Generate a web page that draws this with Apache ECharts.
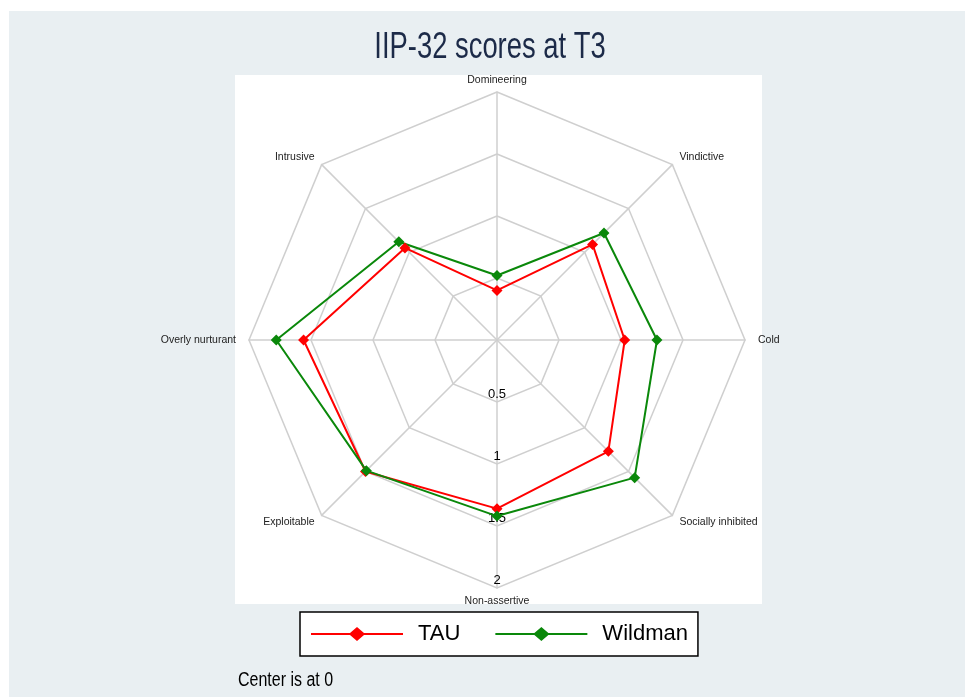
<!DOCTYPE html>
<html><head><meta charset="utf-8">
<script src="https://cdn.jsdelivr.net/npm/echarts@6/dist/echarts.min.js"></script>
<style>html,body{margin:0;padding:0;background:#fff}#c{width:965px;height:697px}</style>
</head><body><div id="c"></div>
<script>
// Indicators listed counter-clockwise from the top
const categories = ['Domineering','Intrusive','Overly nurturant','Exploitable','Non-assertive','Socially inhibited','Cold','Vindictive'];
const tauValues     = [0.40, 1.05, 1.56, 1.50, 1.36, 1.27, 1.03, 1.09];
const wildmanValues = [0.52, 1.12, 1.78, 1.49, 1.42, 1.57, 1.29, 1.22];
const seriesNames = ['TAU','Wildman'];
const tickLabels = ['0.5','1','1.5','2'];
const axisMax = 2;

const FONT = '"Liberation Sans",Arial,sans-serif';
const legendIcon = 'path://M0,6 L39,6 L46,0 L53,6 L92,6 L92,8 L53,8 L46,14 L39,8 L0,8 Z';
const nameGaps = {'Domineering':6,'Non-assertive':8,'Cold':13,'Overly nurturant':13};

const chart = echarts.init(document.getElementById('c'), null, {renderer:'canvas'});
chart.setOption({
  backgroundColor:'#ffffff',
  animation:false,
  textStyle:{fontFamily:FONT},
  graphic:[
    {type:'rect', z:-10, silent:true, shape:{x:9,y:11,width:960,height:690}, style:{fill:'#e9eff2'}},
    {type:'rect', z:-9, silent:true, shape:{x:235,y:75,width:527,height:529}, style:{fill:'#ffffff'}},
    {type:'text', x:490, y:48, scaleX:0.74, style:{text:'IIP-32 scores at T3', font:'37px '+FONT, fill:'#1c2a48', align:'center', verticalAlign:'middle'}},
    {type:'text', x:238, y:680, scaleX:0.8, style:{text:'Center is at 0', font:'20px '+FONT, fill:'#000', align:'left', verticalAlign:'middle'}}
  ],
  legend:{
    data:seriesNames.map(n=>({name:n, icon:legendIcon})),
    left:300, top:612, orient:'horizontal',
    itemWidth:92, itemHeight:14, itemGap:35,
    padding:[11,10,11,11],
    backgroundColor:'#ffffff', borderColor:'#000', borderWidth:1.5,
    textStyle:{fontFamily:FONT, fontSize:22, color:'#000', padding:[0,0,0,10]}
  },
  radar:{
    center:[497,340], radius:248, startAngle:90,
    splitNumber:4, shape:'polygon',
    indicator:categories.map(c=>{
      const o={name:c, min:0, max:axisMax};
      if(nameGaps[c]!=null) o.nameGap=nameGaps[c];
      if(c==='Non-assertive'){
        o.axisLabel={show:true, margin:0, align:'center', verticalAlign:'bottom', showMinLabel:false,
          fontSize:13, color:'#000', fontFamily:FONT, padding:[0,0,1,0],
          formatter:v=>{const s=String(v); return tickLabels.indexOf(s)>=0?s:'';}};
      }
      return o;
    }),
    axisName:{color:'#222', fontSize:10.5, fontFamily:FONT},
    nameGap:10,
    axisLine:{lineStyle:{color:'#cfcfcf', width:1.5}},
    splitLine:{lineStyle:{color:'#cfcfcf', width:1.5}},
    splitArea:{show:false},
    axisTick:{show:false},
    axisLabel:{show:false}
  },
  series:[{
    type:'radar',
    data:[
      {name:seriesNames[0], value:tauValues, symbol:'diamond', symbolSize:11,
       lineStyle:{color:'#ff0000', width:2}, itemStyle:{color:'#ff0000'}},
      {name:seriesNames[1], value:wildmanValues, symbol:'diamond', symbolSize:11,
       lineStyle:{color:'#0a880a', width:2}, itemStyle:{color:'#0a880a'}}
    ]
  }]
});
</script></body></html>
